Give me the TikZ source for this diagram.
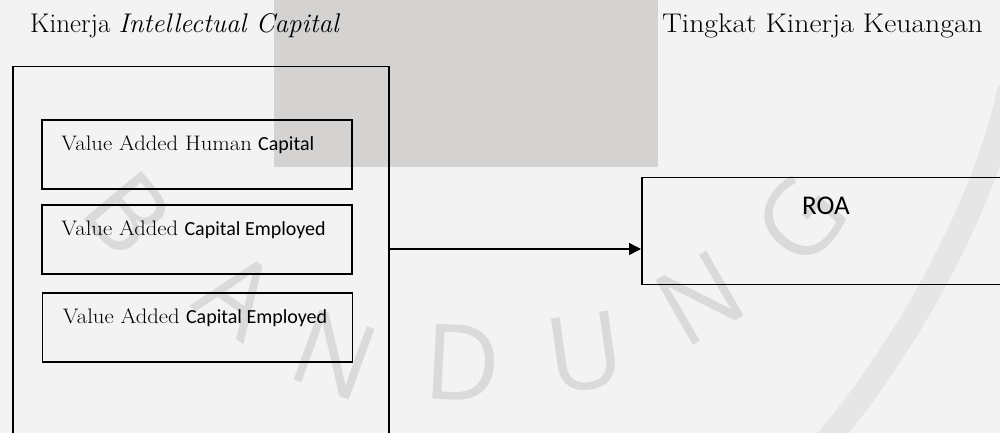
\documentclass[tikz,border=0pt]{standalone}
\usepackage{fontspec}
\newfontfamily\carlito{Carlito}
\newfontfamily\wmfont{Open Sans}
\usetikzlibrary{arrows.meta}
\definecolor{bggray}{HTML}{F3F3F3}
\definecolor{rectgray}{HTML}{D4D3D1}
\definecolor{wmgray}{HTML}{DADADA}
\definecolor{ringgray}{HTML}{E6E6E6}
\newcommand{\sr}[1]{\scalebox{1.08}[1]{#1}}
\newcommand{\cb}[1]{{\carlito\fontsize{20}{20}\selectfont #1}}
\tikzset{
  box/.style={draw=black, line width=1.5pt, minimum width=310pt, minimum height=69pt, inner sep=0pt},
  boxtext/.style={anchor=base west, inner sep=0pt, font=\fontsize{21}{21}\selectfont},
  title/.style={inner sep=0pt, font=\fontsize{27}{27}\selectfont},
  wm/.style={text=wmgray, inner sep=0pt, font=\wmfont\fontsize{105}{105}\selectfont},
  link/.style={line width=1.5pt, -{Triangle[length=12pt,width=12pt]}}
}
\begin{document}
\begin{tikzpicture}[x=1pt,y=1pt]
\useasboundingbox (0,0) rectangle (1000,433);
\fill[bggray] (0,0) rectangle (1000,433);
\fill[rectgray] (274,266) rectangle (658,433);
% faint watermark ring
\draw[ringgray, line width=24pt] (1010,345) .. controls (985,230) and (910,90) .. (825,-10);
% watermark letters
\node[wm, rotate=-50] (wB) at (128,220) {B};
\node[wm, rotate=-35] (wA) at (238,138) {A};
\node[wm, rotate=-20] (wN1) at (335,78) {N};
\node[wm, rotate=-3] (wD) at (463,70) {D};
\node[wm, rotate=8] (wU) at (585,80) {U};
\node[wm, rotate=30] (wN2) at (700,135) {N};
\node[wm, rotate=50] (wG) at (800,213) {G};
% titles
\node[title, anchor=base west] (t1) at (30,400) {Kinerja \textit{Intellectual Capital}};
\node[title, anchor=base east] (t2) at (983,400) {\scalebox{1.1}[1]{Tingkat Kinerja Keuangan}};
% outer box
\node[draw=black, line width=1.5pt, minimum width=376pt, minimum height=380pt, inner sep=0pt, anchor=north west] (outer) at (12,367) {};
% inner boxes
\node[box] (b1) at (197,278.5) {};
\node[box] (b2) at (197,193.5) {};
\node[box] (b3) at (197.5,105.5) {};
\node[boxtext] (l1) at ([xshift=20pt,yshift=-31pt]b1.north west) {\sr{Value Added Human} \cb{Capital}};
\node[boxtext] (l2) at ([xshift=20pt,yshift=-31pt]b2.north west) {\sr{Value Added} \cb{Capital Employed}};
\node[boxtext] (l3) at ([xshift=21pt,yshift=-31pt]b3.north west) {\sr{Value Added} \cb{Capital Employed}};
% ROA box
\node[draw=black, line width=1.5pt, minimum width=370pt, minimum height=107pt, inner sep=0pt, anchor=north west] (roa) at (641,256) {};
\node[anchor=base, inner sep=0pt, font=\carlito\fontsize{27}{27}\selectfont] (roat) at (826,218) {ROA};
% connector
\coordinate (a0) at (388,184);
\draw[link] (a0) -- (roa.west |- a0);
\end{tikzpicture}
\end{document}
